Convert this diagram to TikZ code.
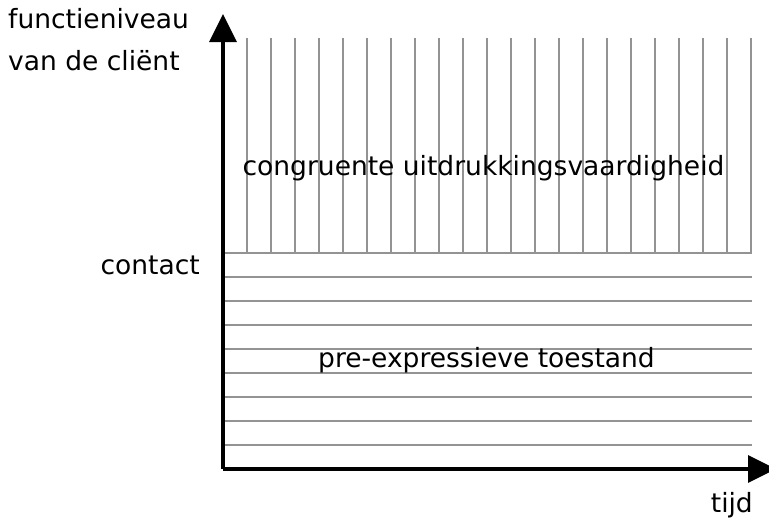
\documentclass[tikz,border=0pt]{standalone}
\usepackage{fontspec}
\setmainfont{DejaVu Sans}
\usepackage{tikz}
\usetikzlibrary{arrows.meta}

\begin{document}
\begin{tikzpicture}[
  x=1pt, y=-1pt,
  axis/.style = {line width=3.3pt, -{Triangle[length=28pt, width=27pt]}},
  gridline/.style = {line width=2pt, gray!85},
  every node/.style = {font=\fontsize{26.5}{30}\selectfont, inner sep=0pt}
]

\useasboundingbox (0,0) rectangle (769,522);

% Coordinates
\coordinate (origin) at (223,469);
\coordinate (ytop) at (223,14);
\coordinate (xend) at (776,469);

% Vertical lines above contact level
\foreach \k in {0,...,21}
  \draw[gridline] (247+24*\k,38) -- (247+24*\k,253);

% Horizontal lines below contact level
\foreach \k in {0,...,8}
  \draw[gridline] (223,253+24*\k) -- (752,253+24*\k);

% Axes
\draw[axis] (origin) -- (ytop);
\draw[axis] (origin) -- (xend);

% Labels
\node[anchor=base west] (ylabel1) at (8,28) {functieniveau};
\node[anchor=base west] (ylabel2) at (8,70) {van de cliënt};
\node[anchor=base east] (contact) at (200,274) {contact};
\node (upper) at (483.5,168) {congruente uitdrukkingsvaardigheid};
\node (lower) at (486.5,360) {pre-expressieve toestand};
\node[anchor=base east] (tijd) at (753,512) {tijd};

\end{tikzpicture}
\end{document}
